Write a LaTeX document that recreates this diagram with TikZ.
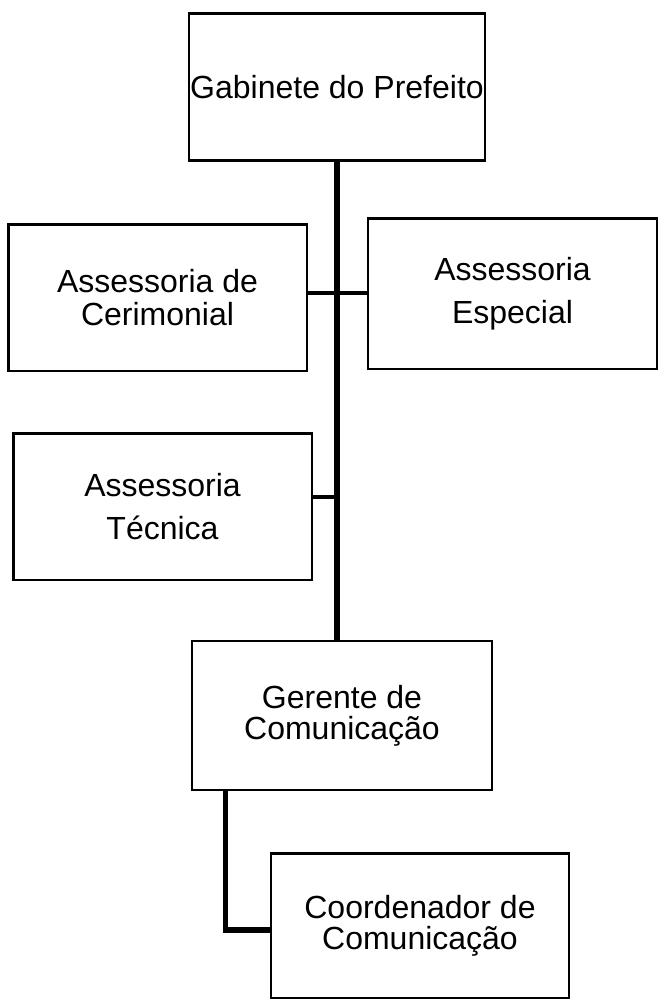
\documentclass[tikz,border=0pt]{standalone}
\usepackage{fontspec}
\setmainfont{Liberation Sans}

\begin{document}
\begin{tikzpicture}[x=0.75pt,y=-0.75pt,
                caixa/.style={draw,line width=2pt,align=center,inner sep=0pt,font=\fontsize{24}{23}\selectfont},
                tronco/.style={line width=3.8pt},
                ramo/.style={line width=2.4pt}]
                \useasboundingbox (0,0) rectangle (659,999);
                \node[caixa,minimum width=222pt,minimum height=110pt](1) at (337,87){Gabinete do Prefeito};
                \node[caixa,minimum width=224pt,minimum height=110pt](2) at (157.5,297.5){Assessoria de\\[2pt]Cerimonial};
                \node[caixa,minimum width=216.75pt,minimum height=113pt](3) at (512.5,293.5){Assessoria\\[9pt]Especial};
                \node[caixa,minimum width=224pt,minimum height=110pt](4) at (162.5,506.5){Assessoria\\[9pt]Técnica};
                \node[caixa,minimum width=225pt,minimum height=111.75pt](5) at (342,715.5){Gerente de\\Comunicação};
                \node[caixa,minimum width=223.5pt,minimum height=108.75pt](6) at (420,926){Coordenador de\\Comunicação};
                \draw[tronco] (1.south) -- (1.south |- 5.north);
                \draw[ramo] (2.east |- 0,293) -- (3.west |- 0,293);
                \draw[ramo] (4.east |- 0,497) -- (1.south |- 0,497);
                \draw[tronco] ([xshift=26pt]5.south west) |- ([yshift=-3pt]6.west);
            \end{tikzpicture}
\end{document}
